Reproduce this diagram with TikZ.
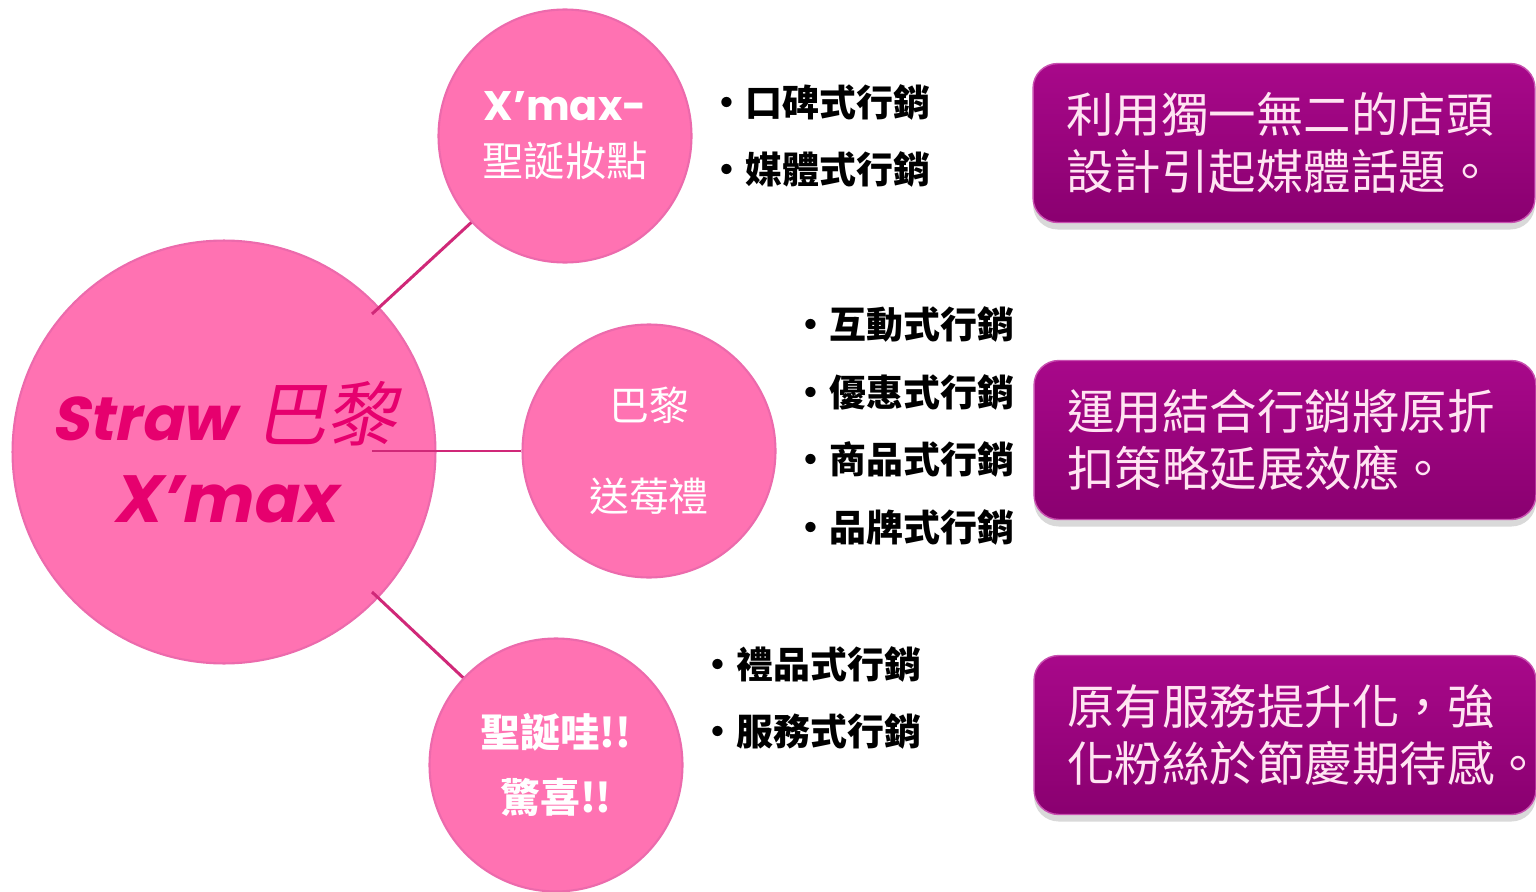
\documentclass[tikz,border=0pt]{standalone}
\usepackage{fontspec}
\usepackage{tikz}
\usetikzlibrary{positioning,shadows}
\newfontfamily\cjk{Noto Sans CJK TC}
\newfontfamily\cjkslant{Noto Sans CJK TC}[FakeSlant=0.2]
\newfontfamily\gothic{Poppins}
\newfontfamily\gothicslant{Poppins}[FakeSlant=0.2]
\definecolor{ballpink}{HTML}{FF72B2}
\definecolor{ballrim}{HTML}{EC6AAC}
\definecolor{titlepink}{HTML}{E6006E}
\definecolor{linkpink}{HTML}{D02878}
\definecolor{notetop}{HTML}{A8088A}
\definecolor{notebottom}{HTML}{8A0070}
\definecolor{noteedge}{HTML}{C850B0}
\definecolor{notetext}{HTML}{FFE4F2}
\tikzset{link/.style={-,draw=linkpink,line width=1.7pt}}

\begin{document}
\begin{tikzpicture}[x=0.02cm,y=-0.02cm,node distance=3.2mm,
		hub/.style={circle,fill=ballpink,draw=ballrim,line width=1.2pt,minimum size=8.46cm,inner sep=0pt,align=center},
		ball/.style={circle,fill=ballpink,draw=ballrim,line width=1.2pt,minimum size=5.06cm,inner sep=0pt,align=center,text=white},
		tactics/.style={inner sep=0pt,align=left,font=\cjk\bfseries\fontsize{21}{38.5}\selectfont},
		note/.style={rectangle,rounded corners=14pt,top color=notetop,bottom color=notebottom,draw=noteedge,line width=0.8pt,minimum width=10.04cm,minimum height=3.18cm,text width=8.7cm,align=left,text=notetext,font=\cjk\fontsize{27}{32.3}\selectfont,drop shadow={shadow xshift=0pt,shadow yshift=-4pt,opacity=0.3}}]
		\useasboundingbox (0,0) rectangle (1536,892);
		\node[hub,text=titlepink,font=\fontsize{40}{46.5}\selectfont] (straw-xmax) at (224,452) {{\gothicslant\bfseries\fontsize{35}{46.5}\selectfont Straw} {\cjkslant 巴黎}\\{\gothicslant\bfseries\fontsize{38}{46.5}\selectfont X’max}};
		\node[ball,font=\fontsize{23.5}{31.7}\selectfont] (xmax-makeup) at (565,136) {{\gothic\bfseries X’max-}\\{\cjk 聖誕妝點}};
		\node[ball,font=\fontsize{22.7}{52}\selectfont] (paris-gift) at (649,451) {{\cjk 巴黎}\\{\cjk 送莓禮}};
		\node[ball,font=\fontsize{22.7}{36.8}\selectfont] (xmas-wow) at (556,765) {{\cjk\bfseries 聖誕哇!!}\\{\cjk\bfseries 驚喜!!}};
		
		\coordinate (hub-top) at (372,314);
		\coordinate (hub-mid) at (372,451);
		\coordinate (hub-low) at (372,592);
		\draw[link] (hub-top) -- (xmax-makeup);
		\draw[link] (hub-mid) -- (paris-gift);
		\draw[link] (hub-low) -- (xmas-wow);
		
		\node[tactics,right=of xmax-makeup] (makeup-tactics) {•口碑式行銷\\•媒體式行銷};
		\node[tactics,right=of paris-gift,yshift=0.5cm] (gift-tactics) {•互動式行銷\\•優惠式行銷\\•商品式行銷\\•品牌式行銷};
		\node[tactics,right=of xmas-wow,yshift=1.34cm] (wow-tactics) {•禮品式行銷\\•服務式行銷};
		
		\node[note] (makeup-note) at (1284,143) {利用獨一無二的店頭\\設計引起媒體話題。};
		\node[note] (gift-note) at (1285,440) {運用結合行銷將原折\\扣策略延展效應。};
		\node[note] (wow-note) at (1285,735) {原有服務提升化，強\\化粉絲於節慶期待感。};
	\end{tikzpicture}
\end{document}
